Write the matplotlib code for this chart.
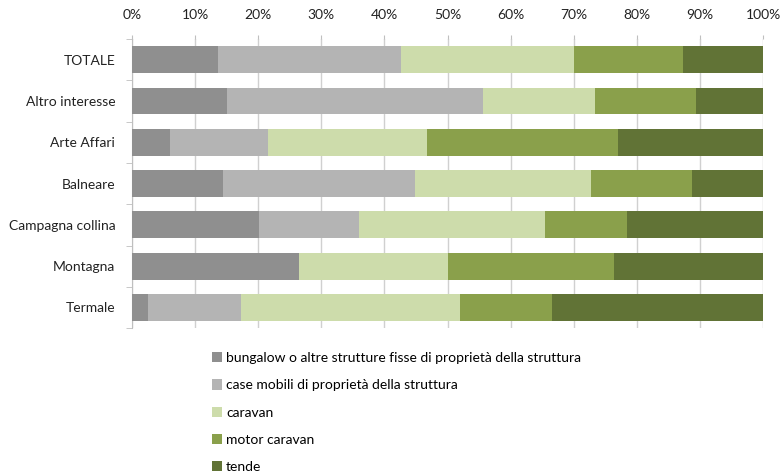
import matplotlib.pyplot as plt
import numpy as np
from matplotlib.patches import Patch

plt.rcParams['font.family'] = ['Lato', 'DejaVu Sans']

# categories, top to bottom
categorie = ["TOTALE", "Altro interesse", "Arte Affari", "Balneare",
             "Campagna collina", "Montagna", "Termale"]

# shares (%) per type of accommodation
bungalow = [13.7, 15.0, 6.1, 14.4, 20.1, 26.5, 2.6]
case_mobili = [28.9, 40.7, 15.5, 30.4, 15.9, 0.0, 14.7]
caravan = [27.4, 17.6, 25.1, 28.0, 29.4, 23.5, 34.6]
motor_caravan = [17.3, 16.0, 30.3, 16.0, 13.1, 26.4, 14.6]
tende = [12.7, 10.7, 23.0, 11.2, 21.5, 23.6, 33.5]

serie = [
    ("bungalow o altre strutture fisse di proprietà della struttura", bungalow, "#8f8f8f"),
    ("case mobili di proprietà della struttura", case_mobili, "#b4b4b4"),
    ("caravan", caravan, "#cddcab"),
    ("motor caravan", motor_caravan, "#8aa04b"),
    ("tende", tende, "#617336"),
]

fig = plt.figure(figsize=(7.81, 4.72), dpi=100)
ax = fig.add_axes([0.169, 0.305, 0.808, 0.612])

y = np.arange(len(categorie))
left = np.zeros(len(categorie))
handles = []
for nome, valori, colore in serie:
    v = np.array(valori)
    ax.barh(y, v, left=left, height=0.65, color=colore, zorder=3)
    left += v
    handles.append(Patch(facecolor=colore, label=nome))

ax.set_xlim(0, 100)
ax.set_ylim(len(categorie) - 0.5, -0.5)
ax.xaxis.tick_top()
ax.set_xticks(np.arange(0, 101, 10))
ax.set_xticklabels([f"{t}%" for t in range(0, 101, 10)], fontsize=10, color="#222222")
ax.tick_params(axis="x", length=3, color="#bfbfbf", pad=10)
ax.set_yticks(y)
ax.set_yticklabels(categorie, fontsize=10, color="#222222")
ax.set_yticks(np.arange(-0.5, len(categorie)), minor=True)
ax.tick_params(axis="y", which="major", length=0, pad=12)
ax.tick_params(axis="y", which="minor", length=4, color="#bfbfbf")
ax.grid(axis="x", color="#d0d0d0", linewidth=1, zorder=0)

for s in ["top", "right", "bottom"]:
    ax.spines[s].set_visible(False)
ax.spines["left"].set_color("#bfbfbf")

fig.legend(handles=handles, loc="upper left", bbox_to_anchor=(0.271, 0.254),
           frameon=False, fontsize=10, handlelength=0.75, handleheight=0.75,
           handletextpad=0.3, labelspacing=1.1, borderaxespad=0, borderpad=0)

fig.savefig("out.png", dpi=100)
